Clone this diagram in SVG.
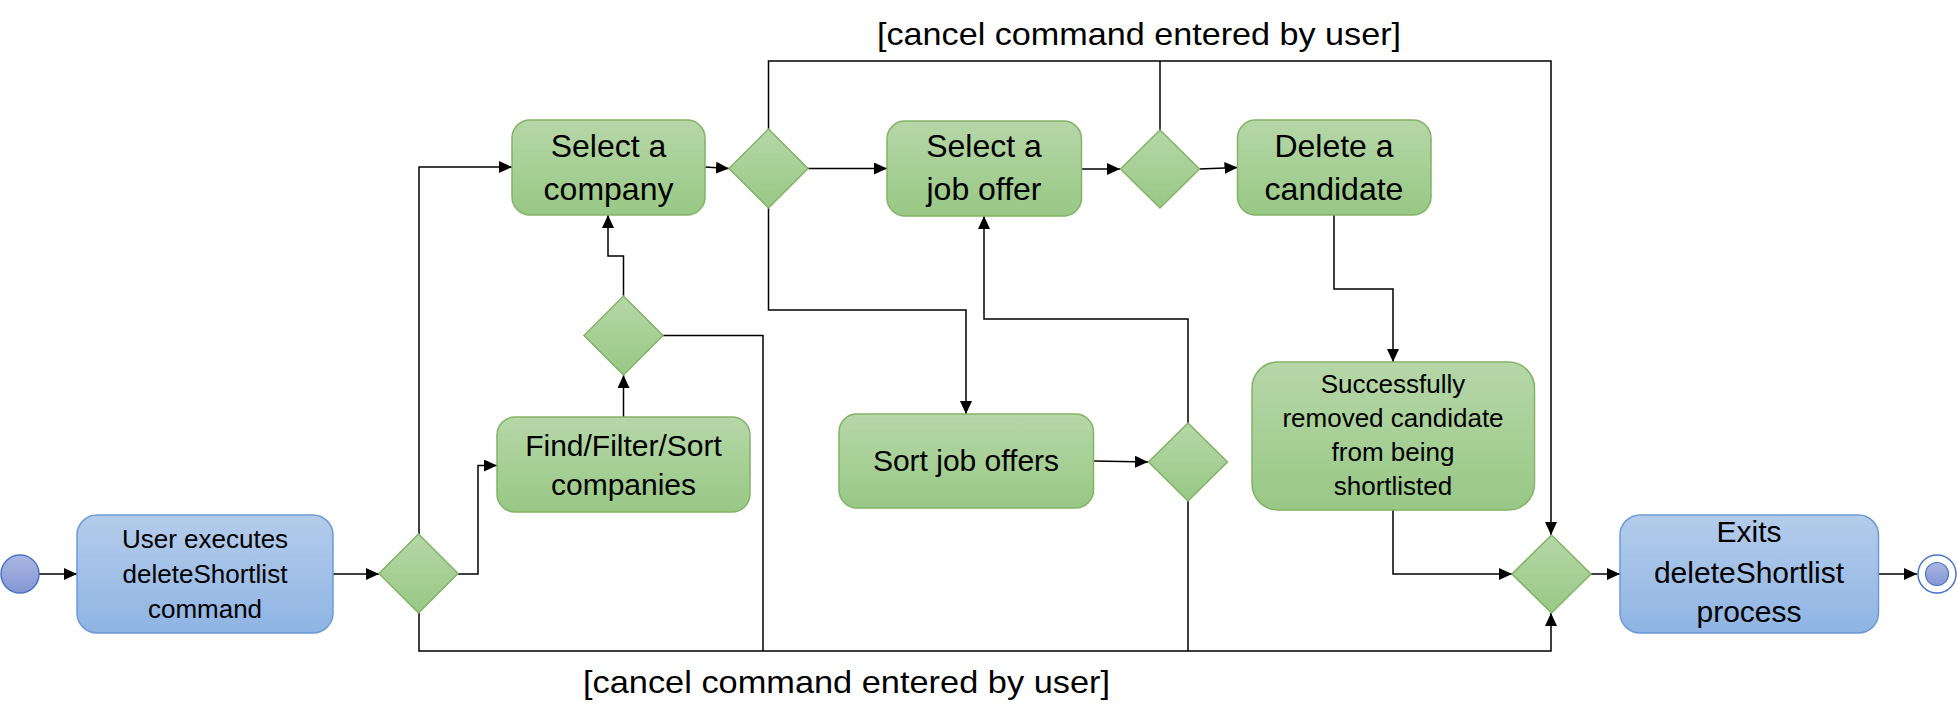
<svg xmlns="http://www.w3.org/2000/svg" width="1957" height="728" viewBox="0 0 1957 728">
<defs>
<linearGradient id="gG" x1="0" y1="0" x2="0" y2="1"><stop offset="0" stop-color="#b6d7a8"/><stop offset="1" stop-color="#98c885"/></linearGradient>
<linearGradient id="gB" x1="0" y1="0" x2="0" y2="1"><stop offset="0" stop-color="#b4cceb"/><stop offset="1" stop-color="#8fb4e3"/></linearGradient>
<linearGradient id="gC" x1="0" y1="0" x2="0" y2="1"><stop offset="0" stop-color="#aab6e2"/><stop offset="1" stop-color="#8596d3"/></linearGradient>
<marker id="arr" markerUnits="userSpaceOnUse" markerWidth="14" markerHeight="12" refX="13" refY="6" orient="auto"><path d="M0,0 L13,6 L0,12 z" fill="#000"/></marker>
</defs>
<style>
.g{fill:url(#gG);stroke:#82b366;stroke-width:1.5}
.b{fill:url(#gB);stroke:#6c9bd8;stroke-width:1.5}
.c{fill:none;stroke:#000;stroke-width:1.5}
.a{marker-end:url(#arr)}
text{font-family:"Liberation Sans",Arial,sans-serif;fill:#000;text-anchor:middle}
.t32{font-size:32px}
.t30{font-size:30px}
.t26{font-size:26px}
.lab{font-size:32px}
</style>
<rect width="1957" height="728" fill="#fff"/>
<g id="connectors">
<path class="c a" d="M39,574 L77,574"/>
<path class="c a" d="M333,574 L379,574"/>
<path class="c a" d="M419,534 L419,167 L512,167"/>
<path class="c a" d="M458,574 L478,574 L478,465.5 L497,465.5"/>
<path class="c a" d="M419,613 L419,651 L1551,651 L1551,613"/>
<path class="c a" d="M623.5,417 L623.5,375"/>
<path class="c a" d="M623.5,296 L623.5,256 L608,256 L608,215"/>
<path class="c" d="M663,335.5 L763,335.5 L763,651"/>
<path class="c a" d="M705,167 L729,168.5"/>
<path class="c a" d="M808,168.5 L887,168.5"/>
<path class="c a" d="M768.5,129 L768.5,61 L1551,61 L1551,535"/>
<path class="c a" d="M768.5,208 L768.5,310 L966,310 L966,414"/>
<path class="c a" d="M1081,169 L1120,169"/>
<path class="c" d="M1160,130 L1160,61"/>
<path class="c a" d="M1199,169 L1237.5,167.5"/>
<path class="c a" d="M1334,215 L1334,289 L1393,289 L1393,362"/>
<path class="c a" d="M1094,461 L1148,462"/>
<path class="c a" d="M1188,423 L1188,319 L984,319 L984,216"/>
<path class="c" d="M1188,501 L1188,651"/>
<path class="c a" d="M1393,510 L1393,574 L1512,574"/>
<path class="c a" d="M1591,574 L1620,574"/>
<path class="c a" d="M1878.5,574 L1917,574"/>
</g>
<g id="start"><circle cx="20" cy="574" r="19" fill="url(#gC)" stroke="#4a74c9" stroke-width="1.5"/></g>
<g id="userExecutes">
<rect class="b" x="77" y="515" width="256" height="118" rx="20"/>
<text class="t26" x="205" y="548">User executes</text>
<text class="t26" x="205" y="583">deleteShortlist</text>
<text class="t26" x="205" y="618">command</text>
</g>
<g id="decision1"><path class="g" d="M418.5,534 L458,573.5 L418.5,613 L379,573.5 z"/></g>
<g id="selectCompany">
<rect class="g" x="512" y="120" width="193" height="95" rx="18"/>
<text class="t32" x="608.5" y="157">Select a</text>
<text class="t32" x="608.5" y="200">company</text>
</g>
<g id="findFilterSort">
<rect class="g" x="497" y="417" width="253" height="95" rx="18"/>
<text class="t30" x="623.5" y="456">Find/Filter/Sort</text>
<text class="t30" x="623.5" y="495">companies</text>
</g>
<g id="decision5"><path class="g" d="M623.5,296 L663,335.5 L623.5,375 L584,335.5 z"/></g>
<g id="decision2"><path class="g" d="M768.5,129 L808,168.5 L768.5,208 L729,168.5 z"/></g>
<g id="selectJob">
<rect class="g" x="887" y="121" width="194.5" height="95" rx="18"/>
<text class="t32" x="984" y="157">Select a</text>
<text class="t32" x="984" y="200">job offer</text>
</g>
<g id="decision3"><path class="g" d="M1160,130 L1199.5,169 L1160,208 L1120.5,169 z"/></g>
<g id="deleteCandidate">
<rect class="g" x="1237.5" y="120" width="193.5" height="95" rx="18"/>
<text class="t32" x="1334" y="157">Delete a</text>
<text class="t32" x="1334" y="200">candidate</text>
</g>
<g id="sortJobs">
<rect class="g" x="839" y="414" width="254.5" height="94" rx="18"/>
<text class="t30" x="966" y="471">Sort job offers</text>
</g>
<g id="decision4"><path class="g" d="M1188,423 L1227.5,462 L1188,501 L1148.5,462 z"/></g>
<g id="success">
<rect class="g" x="1252" y="362" width="282.5" height="148" rx="26"/>
<text class="t26" x="1393" y="393">Successfully</text>
<text class="t26" x="1393" y="427">removed candidate</text>
<text class="t26" x="1393" y="461">from being</text>
<text class="t26" x="1393" y="495">shortlisted</text>
</g>
<g id="merge"><path class="g" d="M1551.5,535 L1591,574 L1551.5,613 L1512,574 z"/></g>
<g id="exits">
<rect class="b" x="1620" y="515" width="258.5" height="118" rx="20"/>
<text class="t30" x="1749" y="542">Exits</text>
<text class="t30" x="1749" y="583">deleteShortlist</text>
<text class="t30" x="1749" y="622">process</text>
</g>
<g id="end">
<circle cx="1937" cy="574" r="19" fill="#fff" stroke="#4a74c9" stroke-width="1.5"/>
<circle cx="1937" cy="574" r="11.5" fill="url(#gC)" stroke="#4a74c9" stroke-width="1.2"/>
</g>
<g id="labels">
<text class="lab" x="1139" y="45" textLength="524" lengthAdjust="spacingAndGlyphs">[cancel command entered by user]</text>
<text class="lab" x="846.5" y="693" textLength="527" lengthAdjust="spacingAndGlyphs">[cancel command entered by user]</text>
</g>
</svg>
